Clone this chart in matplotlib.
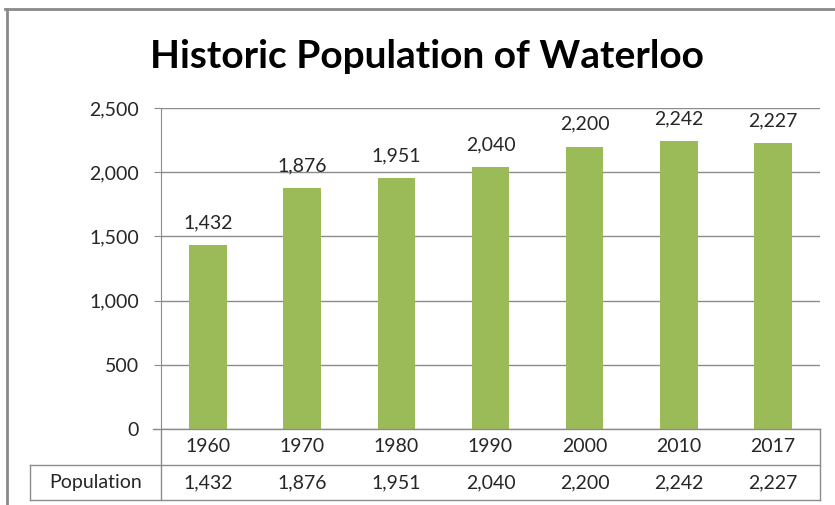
import matplotlib.pyplot as plt
from matplotlib.lines import Line2D

# data
years = ['1960', '1970', '1980', '1990', '2000', '2010', '2017']
population = [1432, 1876, 1951, 2040, 2200, 2242, 2227]
y_ticks = [0, 500, 1000, 1500, 2000, 2500]
title = 'Historic Population of Waterloo'
row_label = 'Population'

W, H = 835, 505
bar_color = '#9BBB59'
grid_color = '#8c8c8c'
text_color = '#262626'
fs = 14
plt.rcParams['font.family'] = ['Lato', 'DejaVu Sans']

fig = plt.figure(figsize=(W / 100, H / 100), dpi=100)


def fx(px):
    return px / W


def fy(py):
    return 1 - py / H


# plot area in pixel coords
left, right, top, zero = 161, 820, 108, 429
ax = fig.add_axes([fx(left), fy(zero), fx(right - left), (zero - top) / H])

x = range(len(years))
bars = ax.bar(x, population, width=0.4, color=bar_color, zorder=3)
ax.set_xlim(-0.5, len(years) - 0.5)
ax.set_ylim(0, 2500)
ax.set_yticks(y_ticks)
ax.set_yticklabels(['{:,}'.format(v) for v in y_ticks], fontsize=fs, color=text_color)
ax.tick_params(axis='y', length=5, color=grid_color, pad=11)
ax.set_xticks([])
ax.grid(axis='y', color=grid_color, linewidth=1, zorder=0)
for s in ['top', 'right', 'bottom']:
    ax.spines[s].set_visible(False)
ax.spines['left'].set_color(grid_color)

# value labels above the bars
for i, v in enumerate(population):
    ax.annotate('{:,}'.format(v), (i, v), xytext=(0, 10), textcoords='offset points',
                ha='center', va='bottom', fontsize=fs, color=text_color)

# data table under the plot
row1, row2, row3 = 429, 465, 500
tleft = 30
lines = [
    ((153, right), (row1, row1)),
    ((tleft, right), (row2, row2)),
    ((tleft, right), (row3, row3)),
    ((tleft, tleft), (row2, row3)),
    ((left, left), (row1, row3)),
    ((right, right), (row1, row3)),
]
for xs, ys in lines:
    fig.add_artist(Line2D([fx(xs[0]), fx(xs[1])], [fy(ys[0]), fy(ys[1])],
                          color=grid_color, linewidth=1))

cell_w = (right - left) / len(years)
for i, (yr, v) in enumerate(zip(years, population)):
    cx = left + cell_w * (i + 0.5)
    fig.text(fx(cx), fy((row1 + row2) / 2), yr, ha='center', va='center',
             fontsize=fs, color=text_color)
    fig.text(fx(cx), fy((row2 + row3) / 2), '{:,}'.format(v), ha='center', va='center',
             fontsize=fs, color=text_color)
fig.text(fx((tleft + left) / 2), fy((row2 + row3) / 2), row_label, ha='center', va='center',
         fontsize=fs, color=text_color)

# chart title
fig.text(fx(427), fy(56), title, ha='center', va='center', fontsize=28,
         fontweight='bold', color='black')

# outer chart border (partly cut off)
fig.add_artist(Line2D([fx(5), 1], [fy(9), fy(9)], color='#8a8a8a', linewidth=2))
fig.add_artist(Line2D([fx(7), fx(7)], [fy(9), 0], color='#8a8a8a', linewidth=2))

fig.savefig('out.png', dpi=100)
